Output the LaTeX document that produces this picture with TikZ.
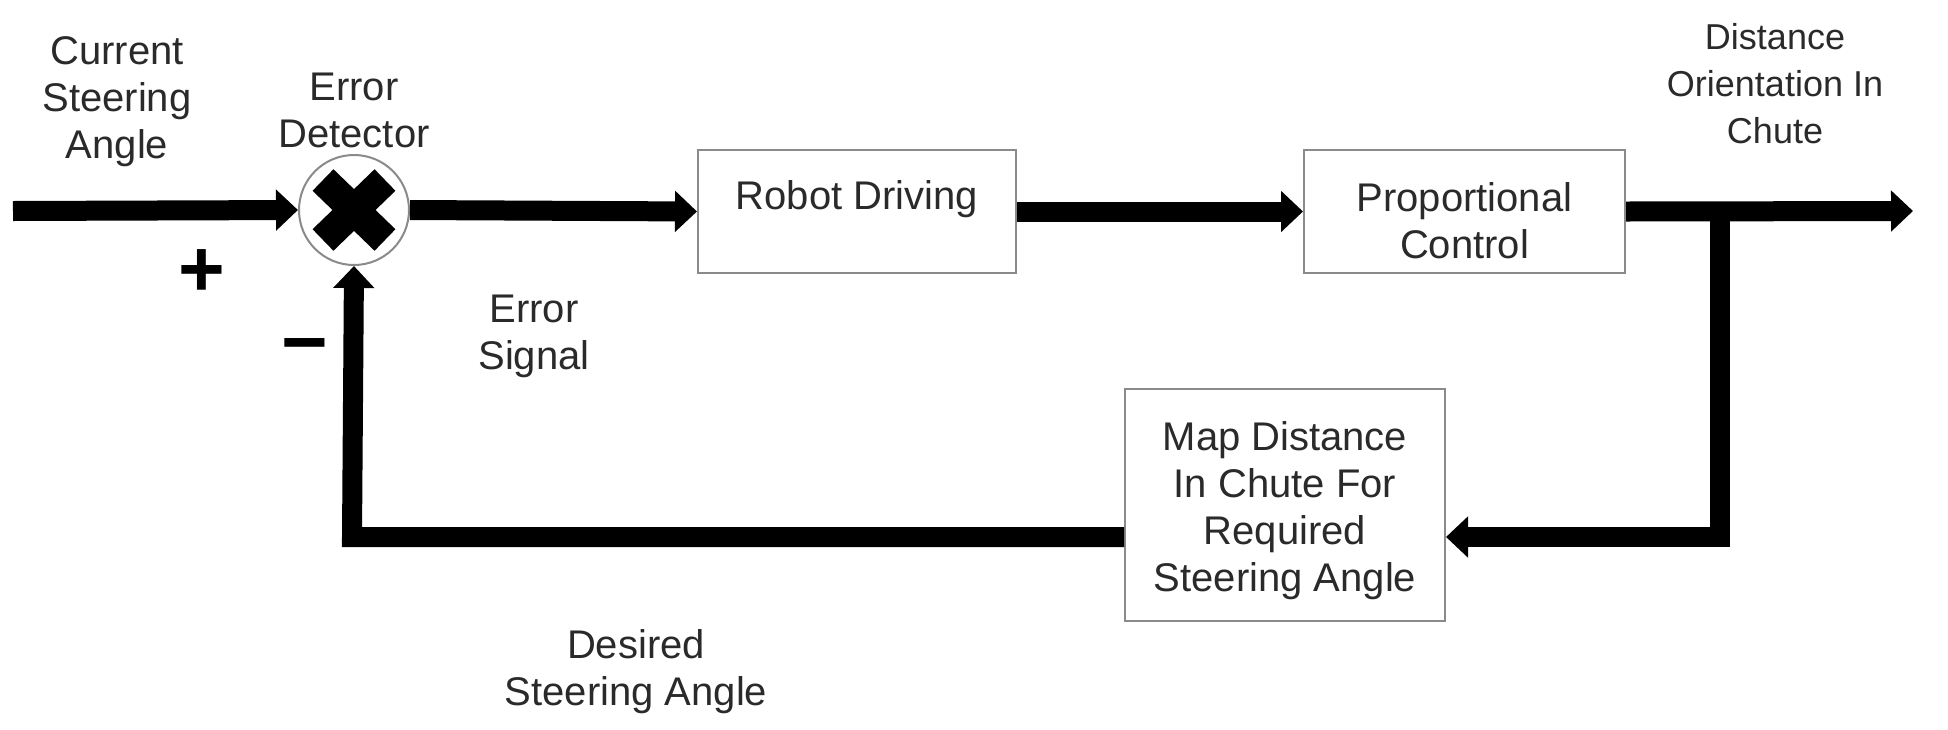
\documentclass[tikz,border=0pt]{standalone}
\usepackage{fontspec}
\setmainfont{Liberation Sans}
\usetikzlibrary{arrows.meta,calc}
\definecolor{txt}{HTML}{2A2A2A}
\definecolor{frame}{HTML}{8A8A8A}
\begin{document}
\begin{tikzpicture}[x=0.5pt,y=-0.5pt,
  lbl/.style={font=\fontsize{20}{23.5}\selectfont, text=txt, align=center, inner sep=0pt},
  box/.style={draw=frame, line width=1pt, fill=white, inner sep=0pt},
  flow/.style={line width=10pt, line join=miter},
  arr/.style={flow, -{Triangle[length=11pt,width=20pt]}},
  sign/.style={font=\bfseries\fontsize{40}{40}\selectfont, inner sep=0pt}]
\useasboundingbox (0,0) rectangle (1948,729);

% blocks
\node[box, minimum width=159pt, minimum height=61.5pt] (rd) at (857,211.5) {};
\node[lbl] (rdt) at (857,199) {Robot Driving};
\node[box, minimum width=160.5pt, minimum height=61.5pt] (pc) at (1464.5,211.5) {};
\node[lbl] (pct) at (1464.5,221) {Proportional\\Control};
\node[box, minimum width=160pt, minimum height=116pt] (map) at (1285,505) {};
\node[lbl] (mapt) at (1285,511) {Map Distance\\In Chute For\\Required\\Steering Angle};

% summing junction
\node[circle, draw=frame, line width=1pt, fill=white, minimum size=55pt, inner sep=0pt] (sum) at (354,210) {};
\draw[line width=15pt] ($(sum)+(-31,-30)$) -- ($(sum)+(31,30)$);
\draw[line width=15pt] ($(sum)+(-31,30)$) -- ($(sum)+(31,-30)$);

% coordinates
\coordinate (in) at (13,211);
\coordinate (out) at (1913,211);
\coordinate (br) at (1720,211);
\coordinate (fbR) at (1720,537);
\coordinate (fbL) at (352,537);

% connectors
\draw[arr] (in) -- (sum.west);
\draw[arr] (sum.east) -- (rd.west);
\draw[arr] (rd.east) -- (pc.west);
\draw[arr] (pc.east) -- (out);
\draw[arr] (br) -- (fbR) -- (map.east |- fbR);
\draw[arr] (map.west |- fbL) -- (fbL) -- (sum.south);

% labels
\node[lbl] (cur) at (117,102) {Current\\Steering\\Angle};
\node[lbl] (ed) at (354,110) {Error\\Detector};
\node[lbl] (es) at (534,336) {Error\\Signal};
\node[lbl] (dsa) at (636,672) {Desired\\Steering Angle};
\node[lbl, font=\fontsize{18}{23.5}\selectfont] (doc) at (1775,84) {Distance\\Orientation In\\Chute};
\node[sign] (plus) at (202,273) {+};
\node[sign] (minus) at (305,354) {\char"2212};
\end{tikzpicture}
\end{document}
